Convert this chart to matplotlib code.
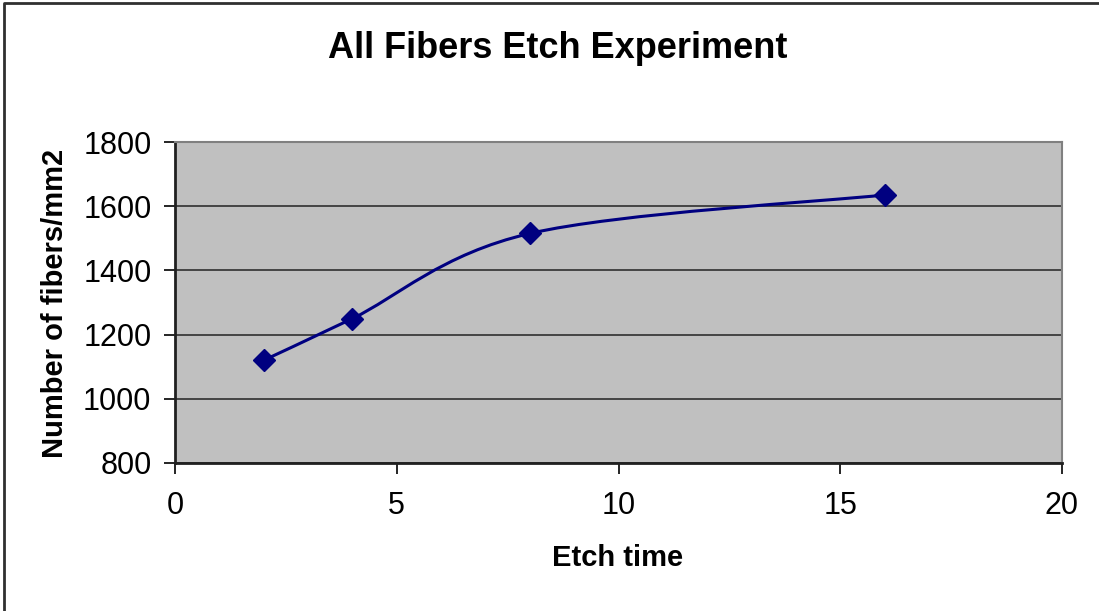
import matplotlib
matplotlib.use("Agg")
import matplotlib.pyplot as plt
from matplotlib.path import Path
from matplotlib.patches import PathPatch
import numpy as np

etch_time = [2, 4, 8, 16]
fibers = [1120, 1250, 1515, 1635]
x_ticks = [0, 5, 10, 15, 20]
y_ticks = [800, 1000, 1200, 1400, 1600, 1800]
title = "All Fibers Etch Experiment"
xlabel = "Etch time"
ylabel = "Number of fibers/mm2"

plt.rcParams['font.family'] = ['Liberation Sans', 'DejaVu Sans']

fig = plt.figure(figsize=(10.99, 6.11), dpi=100)
ax = fig.add_axes([175/1099, 1-463/611, (1062-175)/1099, (463-142)/611])
ax.set_facecolor('#C0C0C0')
ax.set_xlim(x_ticks[0], x_ticks[-1])
ax.set_ylim(y_ticks[0], y_ticks[-1])
ax.set_xticks(x_ticks)
ax.set_yticks(y_ticks)
ax.tick_params(axis='both', labelsize=22, length=8, width=1.2, color='black', direction='out')
ax.tick_params(axis='x', pad=12)
ax.tick_params(axis='y', pad=9)
ax.grid(axis='y', color='#3a3a3a', linewidth=1.3)
ax.set_axisbelow(True)
for s in ['top', 'right']:
    ax.spines[s].set_color('#808080')
    ax.spines[s].set_linewidth(1.5)
for s in ['left', 'bottom']:
    ax.spines[s].set_color('#202020')
    ax.spines[s].set_linewidth(2)

# Excel-style smoothed line (Bezier through data points)
xs = np.array(etch_time, float)
ys = np.array(fibers, float)
n = len(xs)
verts = [(xs[0], ys[0])]
codes = [Path.MOVETO]
for i in range(n - 1):
    p0 = np.array([xs[max(i-1, 0)], ys[max(i-1, 0)]])
    p1 = np.array([xs[i], ys[i]])
    p2 = np.array([xs[i+1], ys[i+1]])
    p3 = np.array([xs[min(i+2, n-1)], ys[min(i+2, n-1)]])
    c1 = p1 + (p2 - p0) / 6.0
    c2 = p2 - (p3 - p1) / 6.0
    verts += [tuple(c1), tuple(c2), tuple(p2)]
    codes += [Path.CURVE4] * 3
ax.add_patch(PathPatch(Path(verts, codes), facecolor='none', edgecolor='#000080', linewidth=2.2, zorder=3))
ax.plot(etch_time, fibers, linestyle='none', marker='D', markersize=11, color='#000080', zorder=4)

fig.text(558/1099, 1-48/611, title, ha='center', va='center', fontsize=26, fontweight='bold')
fig.text(618/1099, 1-558/611, xlabel, ha='center', va='center', fontsize=21, fontweight='bold')
fig.text(55/1099, 1-303/611, ylabel, ha='center', va='center', fontsize=21, fontweight='bold', rotation=90)

# chart area border (left and top visible)
fig.add_artist(plt.Line2D([4/1099, 4/1099, 1.0], [0.0, 1-3/611, 1-3/611], transform=fig.transFigure, color='#303030', linewidth=2))

fig.savefig('out.png', dpi=100, facecolor='white')
